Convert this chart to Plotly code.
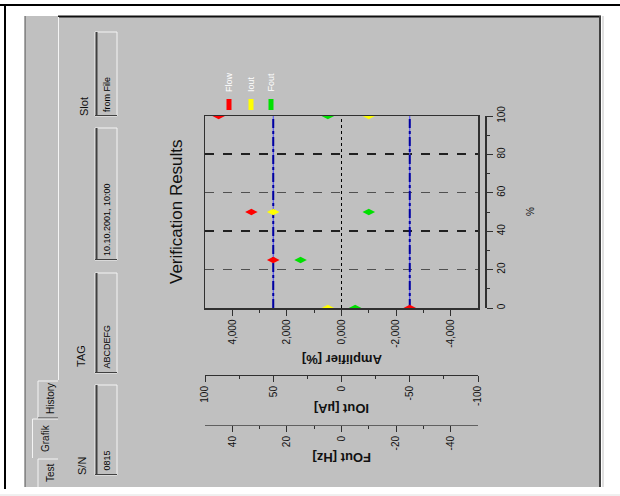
import plotly.graph_objects as go

# ---------------- data ----------------
series_names = ["Flow", "Iout", "Fout"]
series_colors = ["#ff0000", "#ffff00", "#00e000"]

flow_pct = [0, 25, 50, 100]
flow_amp = [-2.5, 2.5, 3.3, 4.5]

iout_pct = [0, 50, 100]
iout_amp = [0.5, 2.5, -1.0]

fout_pct = [0, 25, 50, 100]
fout_amp = [-0.5, 1.5, -1.0, 0.5]

limit_values = [2.5, -2.5]
pct_range = [0, 100]
amp_range = [5, -5]
iout_range = [100, -100]
fout_range = [50, -50]

amp_ticks = [4, 2, 0, -2, -4]
amp_ticktext = ["4,000", "2,000", "0,000", "-2,000", "-4,000"]
amp_minor = [3, 1, -1, -3]
iout_ticks = [100, 50, 0, -50, -100]
iout_minor = [75, 25, -25, -75]
fout_ticks = [40, 20, 0, -20, -40]
fout_minor = [30, 10, -10, -30]
pct_ticks = [0, 20, 40, 60, 80, 100]
pct_minor = [10, 30, 50, 70, 90]
pct_grid_major = [40, 80]
pct_grid_minor = [20, 60]

field_labels = ["S/N", "TAG", "Slot"]
field_values = ["0815", "ABCDEFG", "10.10.2001, 10:00", "from File"]
tab_names = ["Test", "Grafik", "History"]

# ---------------- layout helpers ----------------
W, H = 620, 496
def px(x): return x / W
def py(y): return 1 - y / H

FONT = "Liberation Sans, Arial, sans-serif"
GRAY = "#c0c0c0"
DARK = "#303030"

fig = go.Figure()

# invisible carriers so the extra axes get drawn
fig.add_trace(go.Scatter(x=iout_range, y=pct_range, xaxis="x2", yaxis="y", mode="lines",
                         line=dict(width=0), hoverinfo="skip", showlegend=False))
fig.add_trace(go.Scatter(x=fout_range, y=pct_range, xaxis="x3", yaxis="y", mode="lines",
                         line=dict(width=0), hoverinfo="skip", showlegend=False))
fig.add_trace(go.Scatter(x=amp_range, y=pct_range, xaxis="x", yaxis="y2", mode="lines",
                         line=dict(width=0), hoverinfo="skip", showlegend=False))

# limit lines
for lv in limit_values:
    fig.add_trace(go.Scatter(x=[lv, lv], y=pct_range, mode="lines",
                             line=dict(color="#4848ff", width=1),
                             hoverinfo="skip", showlegend=False))
    fig.add_trace(go.Scatter(x=[lv, lv], y=pct_range, mode="lines",
                             line=dict(color="#0000a0", width=2, dash="dashdot"),
                             hoverinfo="skip", showlegend=False))

for name, col, xs, ys in [("Fout", series_colors[2], fout_amp, fout_pct),
                          ("Iout", series_colors[1], iout_amp, iout_pct),
                          ("Flow", series_colors[0], flow_amp, flow_pct)]:
    fig.add_trace(go.Scatter(x=xs, y=ys, mode="markers", name=name,
                             marker=dict(symbol="diamond-wide", size=9, color=col,
                                         line=dict(width=0)),
                             cliponaxis=True, showlegend=False))

shapes = []
def line(x0, y0, x1, y1, color, width=1, dash="solid"):
    shapes.append(dict(type="line", xref="paper", yref="paper",
                       x0=px(x0), y0=py(y0), x1=px(x1), y1=py(y1),
                       line=dict(color=color, width=width, dash=dash), layer="below"))
def rect(x0, y0, x1, y1, fill, lc=None, lw=0):
    shapes.append(dict(type="rect", xref="paper", yref="paper",
                       x0=px(x0), y0=py(y1), x1=px(x1), y1=py(y0),
                       fillcolor=fill, line=dict(color=lc or fill, width=lw), layer="below"))

# window / panel
rect(25, 16, 601, 487, GRAY)
line(0, 5, 620, 5, "#000000", 2)
line(5, 5, 5, 489, "#000000", 2)
line(0, 495, 620, 495, "#e0e0e0", 1)
line(58, 16.5, 601, 16.5, "#101010", 2)
line(25, 16, 25, 487, "#505050", 1)
line(600, 16, 600, 487, "#404040", 2)
line(603, 16, 603, 487, "#e0e0e0", 2)
line(58.5, 17, 58.5, 380, "#f4f4f4", 1)

# tabs
line(38, 381, 38, 418, "#f4f4f4", 1)
line(38, 381, 58, 381, "#f4f4f4", 1)
line(38, 418, 58, 418, "#404040", 1)
line(32.5, 419, 32.5, 458, "#f4f4f4", 1)
line(32.5, 419, 58, 419, "#f4f4f4", 1)
line(38, 459, 38, 487, "#f4f4f4", 1)
line(38, 459, 58, 459, "#f4f4f4", 1)

# text boxes
boxes = [(385, 475), (273, 373), (128, 260), (32, 116)]
for (y0, y1) in boxes:
    rect(95, y0, 117, y1, GRAY, "#f4f4f4", 1)
    line(96.5, y0, 96.5, y1, "#404040", 2)
    line(95, y1 - 0.5, 117, y1 - 0.5, "#404040", 1)

# legend bars
leg_x = [229, 251, 271]
for xc, col in zip(leg_x, series_colors):
    rect(xc - 2.5, 99, xc + 2.5, 110, col)

# zero reference line (dotted)
shapes.append(dict(type="line", xref="x", yref="y domain", x0=0, x1=0, y0=0, y1=1,
                   line=dict(color="#000000", width=1, dash="dot"), layer="below"))

annotations = []
def text(x, y, s, size=10, color="#101010", angle=-90, family=FONT,
         xanchor="center", yanchor="middle", bold=False):
    annotations.append(dict(x=px(x), y=py(y), xref="paper", yref="paper",
                            text=(f"<b>{s}</b>" if bold else s),
                            showarrow=False, textangle=angle, xanchor=xanchor, yanchor=yanchor,
                            font=dict(size=size, color=color, family=family)))

text(176, 212, "Verification Results", size=17)
text(342, 360, "Amplifier [%]", size=13, angle=180, bold=True)
text(342, 409, "IOut [µA]", size=13, angle=180, bold=True)
text(342, 458, "FOut [Hz]", size=13, angle=180, bold=True)
text(530, 212, "%", size=10)

for xc, nm in zip(leg_x, series_names):
    text(xc, 94, nm, size=9, color="#ffffff", yanchor="bottom")

# tabs text
text(50, 473, tab_names[0], size=10)
text(45, 438, tab_names[1], size=10)
text(50, 399, tab_names[2], size=10)

# field labels
text(82, 466, field_labels[0], size=11)
text(81, 356, field_labels[1], size=11)
text(84, 107, field_labels[2], size=11)

# field values (bottom-aligned)
for (y0, y1), val in zip(boxes, field_values):
    text(106.5, y1 - 2, val, size=9, color="#000000", yanchor="bottom")

tickfont = dict(size=10, color="#101010", family=FONT)
plot_x = [px(205), px(478)]

fig.update_layout(
    template="none",
    width=W, height=H, autosize=False,
    margin=dict(l=0, r=0, t=0, b=0, pad=0),
    paper_bgcolor="#ffffff", plot_bgcolor=GRAY,
    font=dict(family=FONT),
    shapes=shapes, annotations=annotations, showlegend=False,
    xaxis=dict(domain=plot_x, range=amp_range, anchor="y", automargin=False,
               showline=True, mirror=True, linecolor=DARK, linewidth=1.5,
               showgrid=False, zeroline=False,
               tickmode="array", tickvals=amp_ticks, ticktext=amp_ticktext,
               ticks="outside", ticklen=6, tickcolor=DARK, tickangle=-90, tickfont=tickfont,
               minor=dict(tickmode="array", tickvals=amp_minor, ticks="outside", ticklen=3,
                          tickcolor=DARK, showgrid=False)),
    xaxis2=dict(overlaying="x", anchor="free", position=py(375), range=iout_range, side="bottom",
                automargin=False,
                showline=True, linecolor=DARK, linewidth=1, showgrid=False, zeroline=False,
                tickmode="array", tickvals=iout_ticks, ticktext=[str(v) for v in iout_ticks],
                ticks="outside", ticklen=6, tickcolor=DARK, tickangle=-90, tickfont=tickfont,
                minor=dict(tickmode="array", tickvals=iout_minor, ticks="outside", ticklen=3,
                           tickcolor=DARK, showgrid=False)),
    xaxis3=dict(overlaying="x", anchor="free", position=py(425), range=fout_range, side="bottom",
                automargin=False,
                showline=True, linecolor="#606060", linewidth=1, showgrid=False, zeroline=False,
                tickmode="array", tickvals=fout_ticks, ticktext=[str(v) for v in fout_ticks],
                ticks="outside", ticklen=6, tickcolor=DARK, tickangle=-90, tickfont=tickfont,
                minor=dict(tickmode="array", tickvals=fout_minor, ticks="outside", ticklen=3,
                           tickcolor=DARK, showgrid=False)),
    yaxis=dict(domain=[py(308), py(116)], range=pct_range, anchor="x", automargin=False,
               showline=True, mirror=True, linecolor=DARK, linewidth=1.5,
               showticklabels=False, ticks="", zeroline=False,
               tickmode="array", tickvals=pct_grid_major, showgrid=True,
               gridcolor="#202020", gridwidth=2, griddash="dash",
               minor=dict(tickmode="array", tickvals=pct_grid_minor, showgrid=True,
                          gridcolor="#505050", gridwidth=1, griddash="dash", ticks="")),
    yaxis2=dict(overlaying="y", anchor="free", position=px(485), side="right", range=pct_range,
                automargin=False,
                showline=True, linecolor=DARK, linewidth=1.5, showgrid=False, zeroline=False,
                tickmode="array", tickvals=pct_ticks, ticks="outside", ticklen=6, tickcolor=DARK,
                tickangle=-90, tickfont=tickfont,
                minor=dict(tickmode="array", tickvals=pct_minor, ticks="outside", ticklen=3,
                           tickcolor=DARK, showgrid=False)),
)

fig.write_html("out.html", config={"displayModeBar": False, "staticPlot": True},
               post_script="document.body.style.margin='0';document.body.style.overflow='hidden';")
